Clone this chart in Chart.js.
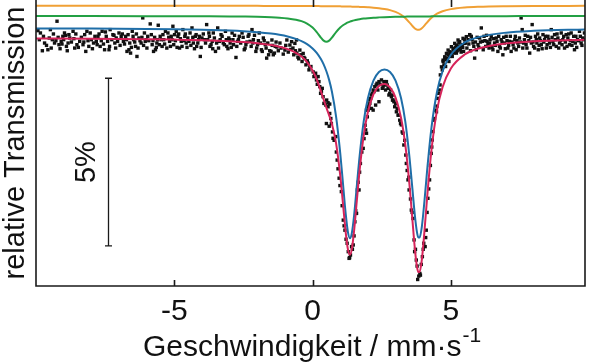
<!DOCTYPE html>
<html>
<head>
<meta charset="utf-8">
<script src="https://cdn.jsdelivr.net/npm/chart.js@4.4.1/dist/chart.umd.min.js"></script>
<style>
html,body{margin:0;padding:0;background:#fff;}
#wrap{width:590px;height:364px;position:relative;}
canvas{display:block;}
</style>
</head>
<body>
<div id="wrap"><canvas id="c" width="590" height="364"></canvas></div>
<script>
// ---- data (velocity in mm/s, relative transmission in %) ----
const dataX = [
-9.93,-9.84,-9.77,-9.69,-9.57,-9.48,-9.41,-9.33,-9.24,-9.17,-9.09,-9.03,-8.97,-8.90,-8.84,-8.78,-8.66,-8.60,-8.52,-8.42,-8.30,-8.24,-8.16,-8.09,-8.00,-7.92,-7.82,-7.76,-7.68,-7.61,-7.52,-7.46,-7.36,-7.32,-7.22,-7.15,-7.10,-7.00,-6.92,-6.84,-6.76,-6.71,-6.64,-6.58,-6.52,-6.47,-6.40,-6.35,-6.28,-6.20,-6.14,-6.08,-6.02,-5.96,-5.87,-5.80,-5.75,-5.68,-5.63,-5.58,-5.51,-5.44,-5.38,-5.32,-5.23,-5.17,-5.11,-5.05,-4.99,-4.93,-4.87,-4.81,-4.75,-4.69,-4.62,-4.57,-4.51,-4.43,-4.36,-4.31,-4.24,-4.19,-4.12,-4.06,-4.00,-3.91,-3.83,-3.75,-3.71,-3.63,-3.59,-3.51,-3.43,-3.37,-3.31,-3.23,-3.15,-3.10,-3.03,-2.98,-2.91,-2.86,-2.77,-2.71,-2.65,-2.55,-2.47,-2.41,-2.33,-2.26,-2.19,-2.14,-2.05,-1.99,-1.93,-1.85,-1.78,-1.71,-1.66,-1.59,-1.50,-1.42,-1.35,
-9.88,-9.73,-9.62,-9.52,-9.45,-9.37,-9.28,-9.20,-9.13,-9.06,-9.00,-8.93,-8.87,-8.81,-8.72,-8.63,-8.56,-8.47,-8.36,-8.27,-8.20,-8.12,-8.04,-7.96,-7.87,-7.79,-7.72,-7.64,-7.56,-7.49,-7.41,-7.34,-7.26,-7.18,-7.12,-7.05,-6.96,-6.88,-6.80,-6.73,-6.67,-6.61,-6.55,-6.49,-6.43,-6.37,-6.31,-6.24,-6.17,-6.11,-6.05,-5.99,-5.92,-5.83,-5.77,-5.71,-5.65,-5.60,-5.54,-5.47,-5.41,-5.35,-5.27,-5.20,-5.14,-5.08,-5.02,-4.96,-4.90,-4.84,-4.78,-4.72,-4.65,-4.60,-4.54,-4.47,-4.40,-4.33,-4.27,-4.21,-4.15,-4.09,-4.03,-3.95,-3.87,-3.79,-3.73,-3.67,-3.61,-3.55,-3.47,-3.40,-3.34,-3.27,-3.19,-3.12,-3.06,-3.00,-2.94,-2.88,-2.82,-2.74,-2.68,-2.60,-2.51,-2.44,-2.37,-2.30,-2.22,-2.16,-2.10,-2.02,-1.96,-1.89,-1.82,-1.75,-1.68,-1.62,-1.55,-1.46,-1.38,-1.32,-1.24,-1.14,-1.06,-0.97,-0.88,-0.79,-0.68,-0.62,-0.50,-0.42,-0.38,-0.31,-0.24,-0.19,-0.13,-0.06,0.05,0.11,0.17,0.23,0.29,0.35,
-1.47,-1.29,-1.18,-1.00,-0.93,-0.82,-0.71,-0.57,-0.53,-0.76,-0.64,-0.58,-0.46,-0.34,-0.28,-0.16,-0.10,0.02,0.08,0.14,0.20,0.26,0.32,0.38,0.44,0.51,0.56,0.62,
0.41,0.48,0.56,0.62,0.50,0.60,0.68,0.74,0.84,0.89,0.96,1.04,1.11,1.17,1.25,1.29,1.32,1.37,1.41,1.47,1.53,1.59,1.62,1.68,1.73,1.83,1.92,1.95,2.01,2.07,2.13,2.19,2.28,2.40,
0.66,0.72,0.78,0.86,0.92,0.99,1.07,1.14,1.21,1.34,1.44,1.50,1.56,1.65,1.70,1.78,1.86,1.90,1.98,2.04,2.10,2.16,2.22,2.30,2.36,2.44,2.52,2.58,2.64,2.70,2.76,2.82,2.88,2.94,3.00,3.06,3.12,3.18,3.24,3.33,3.42,3.48,3.54,3.60,3.72,3.78,3.93,4.00,4.09,4.14,4.20,4.26,4.31,4.41,4.48,4.53,4.58,
1.95,2.01,2.07,2.13,2.19,2.25,2.33,2.40,2.49,2.55,2.61,2.67,2.73,2.79,2.85,2.91,2.97,3.03,
2.89,3.03,3.09,3.15,3.21,3.27,3.30,3.37,3.39,3.45,3.49,3.57,3.63,3.67,3.69,3.75,3.80,3.84,3.88,3.90,3.97,4.02,4.07,4.11,4.17,4.23,4.29,4.33,4.35,4.38,4.45,4.50,4.56,4.61,
4.66,4.72,4.78,4.84,4.90,4.96,5.02,5.08,5.14,5.20,5.26,5.32,5.44,5.50,5.56,5.68,
4.62,4.69,4.75,4.81,4.87,4.93,4.99,5.05,5.11,5.17,5.23,5.29,5.37,5.43,5.49,5.58,5.65,5.71,5.77,5.83,5.89,5.95,6.01,6.07,6.17,6.23,6.29,6.34,6.40,6.49,6.55,6.61,6.67,6.73,6.79,6.85,6.91,6.97,7.03,7.09,7.15,7.21,7.28,7.33,7.39,7.45,7.51,7.63,7.69,7.75,7.82,7.88,7.97,8.03,8.09,8.14,8.19,8.24,8.30,8.36,8.42,8.48,8.54,8.60,8.66,8.72,8.78,8.84,8.90,8.96,9.02,9.08,9.14,9.20,9.26,9.32,9.38,9.44,9.50,9.55,9.62,9.68,9.74,9.80,
4.72,4.78,4.84,4.90,4.96,5.02,5.08,5.14,5.20,5.26,5.32,5.34,5.41,5.46,5.53,5.62,5.68,5.74,5.80,5.86,5.92,5.98,6.04,6.10,6.14,6.20,6.26,6.31,6.38,6.42,6.46,6.52,6.58,6.64,6.70,6.76,6.82,6.88,6.94,7.00,7.06,7.12,7.18,7.25,7.31,7.36,7.42,7.48,7.54,7.58,7.60,7.66,7.72,7.78,7.85,7.91,7.94,7.99,8.06,8.11,8.16,8.21,8.27,8.33,8.39,8.45,8.51,8.57,8.63,8.69,8.75,8.81,8.87,8.93,8.99,9.05,9.11,9.17,9.23,9.29,9.35,9.41,9.47,9.52,9.58,9.65,9.71,9.77,9.83
];
const dataY = [
100.22,100.15,99.62,99.85,99.65,100.25,99.95,99.85,100.50,99.80,99.90,100.05,100.15,99.75,99.85,100.00,100.20,99.70,99.80,99.90,99.80,100.10,100.20,99.75,99.95,99.85,99.90,100.05,99.75,100.20,99.65,100.05,99.65,100.25,100.10,99.85,100.00,100.15,100.05,99.90,100.05,99.60,99.65,99.55,100.20,99.95,99.75,99.45,100.00,99.85,100.60,100.15,99.95,100.05,100.42,99.80,99.60,99.65,99.85,100.38,100.05,99.75,99.95,100.20,100.15,99.90,100.05,100.35,100.10,100.20,100.05,99.70,99.90,100.25,100.05,99.85,100.00,100.15,100.30,99.85,100.05,99.75,99.95,99.45,100.00,99.95,100.40,100.15,99.75,99.90,100.15,99.60,100.30,99.90,100.10,99.85,100.20,99.75,100.00,99.85,100.15,99.80,99.42,99.90,100.05,100.15,99.65,99.80,100.05,99.90,100.25,99.95,99.60,99.80,100.15,99.65,100.00,99.80,99.40,99.50,99.60,99.50,99.75,
99.95,100.05,99.78,100.00,99.70,100.12,99.92,100.02,99.68,99.82,99.95,100.08,99.62,100.10,99.88,99.98,100.12,99.72,100.02,99.88,99.60,99.92,100.15,99.68,100.05,99.80,100.12,99.92,99.82,100.18,99.90,99.75,99.95,100.08,99.70,99.90,99.78,100.12,99.82,99.95,100.10,99.85,99.72,100.05,99.88,100.12,99.70,99.92,100.02,99.78,99.90,99.70,99.92,100.10,99.92,100.02,99.72,99.95,99.80,99.95,100.10,99.82,99.70,100.02,99.75,99.95,99.80,99.92,99.72,100.12,99.98,99.75,99.92,100.12,99.72,99.90,99.78,100.02,99.68,100.10,99.85,100.05,99.72,100.12,99.85,99.95,100.05,99.80,99.68,100.00,99.85,99.70,99.95,100.05,99.80,99.95,99.68,99.95,99.72,99.95,100.08,99.75,99.95,99.85,100.02,99.70,99.88,100.10,99.75,99.85,100.08,99.70,99.92,99.85,99.60,99.92,99.70,99.85,99.62,99.78,99.55,99.88,99.62,99.70,99.52,99.78,99.58,99.66,99.50,99.62,99.38,99.50,99.30,99.42,99.20,99.32,99.05,99.15,98.85,98.95,98.62,98.70,98.35,98.50,
99.94,99.73,99.85,99.64,99.94,99.79,99.70,99.55,99.43,99.89,99.84,99.94,99.64,99.54,99.39,99.25,99.14,98.99,98.90,98.75,98.85,98.55,98.40,98.25,98.05,98.15,97.95,97.75,
98.05,98.00,98.07,98.03,97.45,97.37,97.45,97.01,97.06,96.36,95.82,95.42,94.57,94.27,93.88,93.63,93.43,93.53,93.78,93.83,94.52,94.77,95.47,95.47,96.26,96.71,97.26,97.16,97.85,98.05,97.90,97.85,98.00,98.10,
97.60,97.20,96.95,96.60,96.10,95.60,95.00,94.40,94.00,93.45,93.70,94.10,94.85,95.70,96.00,96.60,97.00,97.40,97.65,98.00,98.20,98.35,98.40,98.60,98.45,98.62,98.50,98.70,98.45,98.60,98.30,98.45,98.30,98.10,98.05,97.90,97.70,97.45,97.20,96.95,96.05,95.85,95.20,94.80,93.70,93.20,93.25,93.70,94.05,94.80,95.50,96.20,96.75,97.60,97.80,98.20,98.45,
97.85,97.95,98.15,98.30,98.45,98.55,98.65,98.70,98.75,98.55,98.60,98.70,98.50,98.35,98.25,98.15,97.95,97.80,
98.15,98.05,97.70,97.55,97.41,97.16,96.81,96.51,96.26,95.77,95.47,94.87,94.62,93.98,93.63,93.38,92.80,92.90,92.98,92.93,93.48,93.88,93.78,94.27,95.22,95.77,96.56,96.96,97.21,97.55,97.85,97.97,98.35,98.60,
99.14,99.34,99.44,99.54,99.64,99.59,99.74,99.69,99.84,99.79,99.94,99.89,99.99,99.84,100.04,100.09,
98.90,99.05,99.20,99.15,99.40,99.30,99.52,99.45,99.55,99.72,99.62,99.85,99.58,99.72,99.95,99.70,99.82,99.62,99.95,99.75,99.88,100.02,99.72,99.88,99.65,99.92,100.08,99.80,99.85,99.72,99.98,99.78,99.90,100.05,99.70,99.88,100.02,99.68,99.92,99.78,100.05,99.88,99.70,100.05,99.92,99.75,99.88,99.85,100.08,99.70,99.92,100.02,99.88,99.70,99.95,100.12,99.78,99.92,99.68,99.88,100.05,99.80,99.95,99.72,100.02,99.80,99.95,100.12,99.70,99.92,99.80,100.05,99.88,99.75,100.12,99.92,99.78,100.05,99.85,99.72,99.92,100.05,99.78,99.95,
99.30,99.40,99.35,99.50,99.45,99.55,99.60,99.65,99.55,99.70,99.75,99.65,99.80,99.60,99.85,99.95,100.10,100.05,99.85,99.40,99.65,99.80,100.00,100.30,99.90,100.05,99.75,99.90,99.70,99.95,100.05,99.65,99.85,100.00,99.60,99.75,99.95,99.50,99.85,100.05,99.70,99.90,99.60,99.80,99.95,99.65,99.85,100.00,100.60,100.25,99.70,99.95,99.80,100.05,99.55,99.85,100.40,99.75,100.05,99.85,99.65,100.00,99.80,100.10,99.95,99.70,100.05,99.85,100.25,99.90,100.10,99.75,100.00,99.85,100.15,99.95,99.70,100.10,100.00,99.80,100.15,99.90,99.65,100.05,99.95,100.20,99.85,100.00,100.15
];

// fitted curves
const fitX = [-10,-8,-6,-5,-4,-3,-2.5,-2,-1.5,-1.2,-0.9,-0.6,-0.4,-0.2,0,0.15,0.3,0.4,0.5,0.6,0.7,0.85,1.0,1.1,1.2,1.28,1.35,1.42,1.5,1.6,1.7,1.85,2.0,2.2,2.4,2.6,2.8,3.0,3.2,3.35,3.5,3.6,3.7,3.77,3.82,3.87,3.95,4.05,4.15,4.3,4.5,4.7,5.0,5.5,6,7,8,9.85];
const fitTotal = [99.984,99.977,99.964,99.952,99.935,99.905,99.881,99.845,99.790,99.740,99.668,99.557,99.446,99.283,99.034,98.765,98.418,98.166,97.923,97.695,97.437,96.861,95.905,95.056,94.192,93.689,93.537,93.712,94.242,95.147,96.045,97.102,97.794,98.323,98.571,98.632,98.527,98.224,97.613,96.833,95.660,94.679,93.708,93.208,93.026,93.023,93.388,94.285,95.326,96.668,97.848,98.534,99.092,99.507,99.688,99.840,99.902,99.949];
const fitDoublet = [100.286,100.280,100.269,100.260,100.245,100.221,100.202,100.174,100.133,100.097,100.047,99.975,99.909,99.818,99.690,99.557,99.374,99.214,99.008,98.744,98.397,97.659,96.570,95.655,94.740,94.206,94.032,94.188,94.701,95.590,96.475,97.519,98.204,98.732,98.986,99.062,98.986,98.732,98.204,97.519,96.475,95.590,94.701,94.235,94.060,94.049,94.372,95.183,96.126,97.339,98.397,99.008,99.502,99.867,100.026,100.160,100.214,100.255];
const fitSingletA = [100.655,100.654,100.652,100.651,100.648,100.644,100.639,100.632,100.619,100.606,100.584,100.546,100.502,100.431,100.311,100.176,100.013,99.922,99.886,99.922,100.013,100.176,100.311,100.379,100.431,100.464,100.487,100.507,100.526,100.546,100.561,100.579,100.592,100.606,100.615,100.622,100.628,100.632,100.635,100.637,100.639,100.640,100.641,100.642,100.642,100.643,100.643,100.644,100.644,100.645,100.646,100.647,100.648,100.650,100.651,100.652,100.653,100.654];
const fitSingletB = [100.962,100.962,100.961,100.961,100.960,100.959,100.959,100.958,100.957,100.957,100.956,100.955,100.954,100.953,100.952,100.951,100.950,100.949,100.948,100.947,100.946,100.945,100.943,100.941,100.940,100.938,100.937,100.935,100.933,100.931,100.928,100.923,100.916,100.905,100.889,100.866,100.832,100.779,100.693,100.595,100.465,100.368,100.285,100.251,100.243,100.251,100.292,100.377,100.474,100.603,100.724,100.798,100.861,100.909,100.930,100.947,100.954,100.958];

const xTickValues = [-5, 0, 5];
const xRange = [-10, 9.85];
const yRange = [92.606, 101.133];
const scaleBar = {x: -7.4, top: 98.8, bottom: 93.8, label: '5%'};
const xTitle = 'Geschwindigkeit / mm·s';
const xTitleSup = '-1';
const yTitle = 'relative Transmission';

const FONT = "'Liberation Sans', Arial, Helvetica, sans-serif";

const toPts = (xs, ys) => xs.map((x, i) => ({x: x, y: ys[i]}));

const decor = {
  id: 'decor',
  afterDatasetsDraw(chart) {
    const {ctx, chartArea: a, scales: {x, y}} = chart;
    ctx.save();
    ctx.strokeStyle = '#1a1a1a';
    ctx.lineWidth = 1.6;
    ctx.beginPath();
    ctx.moveTo(a.left, a.top);
    ctx.lineTo(a.left, a.bottom);
    ctx.lineTo(a.right, a.bottom);
    ctx.lineTo(a.right, a.top);
    xTickValues.forEach(v => {
      const px = Math.round(x.getPixelForValue(v)) + 0.5;
      ctx.moveTo(px, a.bottom); ctx.lineTo(px, a.bottom - 6);
      ctx.moveTo(px, a.top); ctx.lineTo(px, a.top + 7);
    });
    ctx.stroke();
    // scale bar
    const bx = Math.round(x.getPixelForValue(scaleBar.x)) + 0.5;
    const by1 = y.getPixelForValue(scaleBar.top);
    const by2 = y.getPixelForValue(scaleBar.bottom);
    ctx.lineWidth = 1.3;
    ctx.beginPath();
    ctx.moveTo(bx, by1); ctx.lineTo(bx, by2);
    ctx.moveTo(bx - 3.5, by1); ctx.lineTo(bx + 3.5, by1);
    ctx.moveTo(bx - 3.5, by2); ctx.lineTo(bx + 3.5, by2);
    ctx.stroke();
    ctx.fillStyle = '#111';
    ctx.font = '29px ' + FONT;
    ctx.textAlign = 'center';
    ctx.textBaseline = 'middle';
    ctx.translate(bx - 22, (by1 + by2) / 2);
    ctx.rotate(-Math.PI / 2);
    ctx.fillText(scaleBar.label, 0, 0);
    ctx.restore();
    // x title with superscript
    ctx.save();
    ctx.fillStyle = '#111';
    ctx.textBaseline = 'alphabetic';
    ctx.textAlign = 'left';
    ctx.font = '30px ' + FONT;
    const w1 = ctx.measureText(xTitle).width;
    ctx.font = '21px ' + FONT;
    const w2 = ctx.measureText(xTitleSup).width;
    const cx = x.getPixelForValue(0) - 1;
    const start = cx - (w1 + w2) / 2;
    ctx.font = '30px ' + FONT;
    ctx.fillText(xTitle, start, 356);
    ctx.font = '21px ' + FONT;
    ctx.fillText(xTitleSup, start + w1 + 1, 342);
    ctx.restore();
  }
};

new Chart(document.getElementById('c'), {
  type: 'scatter',
  data: {
    datasets: [
      {label: 'Messdaten', data: toPts(dataX, dataY), pointStyle: 'rect', pointRadius: 2.4,
       backgroundColor: '#111', borderWidth: 0, order: 10},
      {label: 'Summe', data: toPts(fitX, fitTotal), showLine: true, pointRadius: 0, borderColor: '#d6245a',
       borderWidth: 2, cubicInterpolationMode: 'monotone', order: 1},
      {label: 'Dublett', data: toPts(fitX, fitDoublet), showLine: true, pointRadius: 0, borderColor: '#1f6ea8',
       borderWidth: 2, cubicInterpolationMode: 'monotone', order: 2},
      {label: 'Singulett 1', data: toPts(fitX, fitSingletA), showLine: true, pointRadius: 0, borderColor: '#23a044',
       borderWidth: 2, cubicInterpolationMode: 'monotone', order: 3},
      {label: 'Singulett 2', data: toPts(fitX, fitSingletB), showLine: true, pointRadius: 0, borderColor: '#f0a035',
       borderWidth: 2, cubicInterpolationMode: 'monotone', order: 4}
    ]
  },
  options: {
    responsive: false,
    animation: false,
    devicePixelRatio: 1,
    layout: {autoPadding: false, padding: {left: 0, right: 5, top: 0, bottom: 0}},
    plugins: {legend: {display: false}, tooltip: {enabled: false}},
    scales: {
      x: {
        type: 'linear', min: xRange[0], max: xRange[1],
        afterBuildTicks: s => { s.ticks = xTickValues.map(v => ({value: v})); },
        afterFit: s => { s.height = 78; },
        grid: {display: false}, border: {display: false},
        ticks: {color: '#111', font: {size: 30, family: FONT}, padding: 0, maxRotation: 0,
                callback: v => String(v)}
      },
      y: {
        type: 'linear', min: yRange[0], max: yRange[1],
        afterFit: s => { s.width = 36; },
        grid: {display: false}, border: {display: false},
        ticks: {display: false},
        title: {display: true, text: yTitle, color: '#111', font: {size: 29, family: FONT, lineHeight: 1.0}, padding: {top: 1, bottom: 0}}
      }
    }
  },
  plugins: [decor]
});
</script>
</body>
</html>
